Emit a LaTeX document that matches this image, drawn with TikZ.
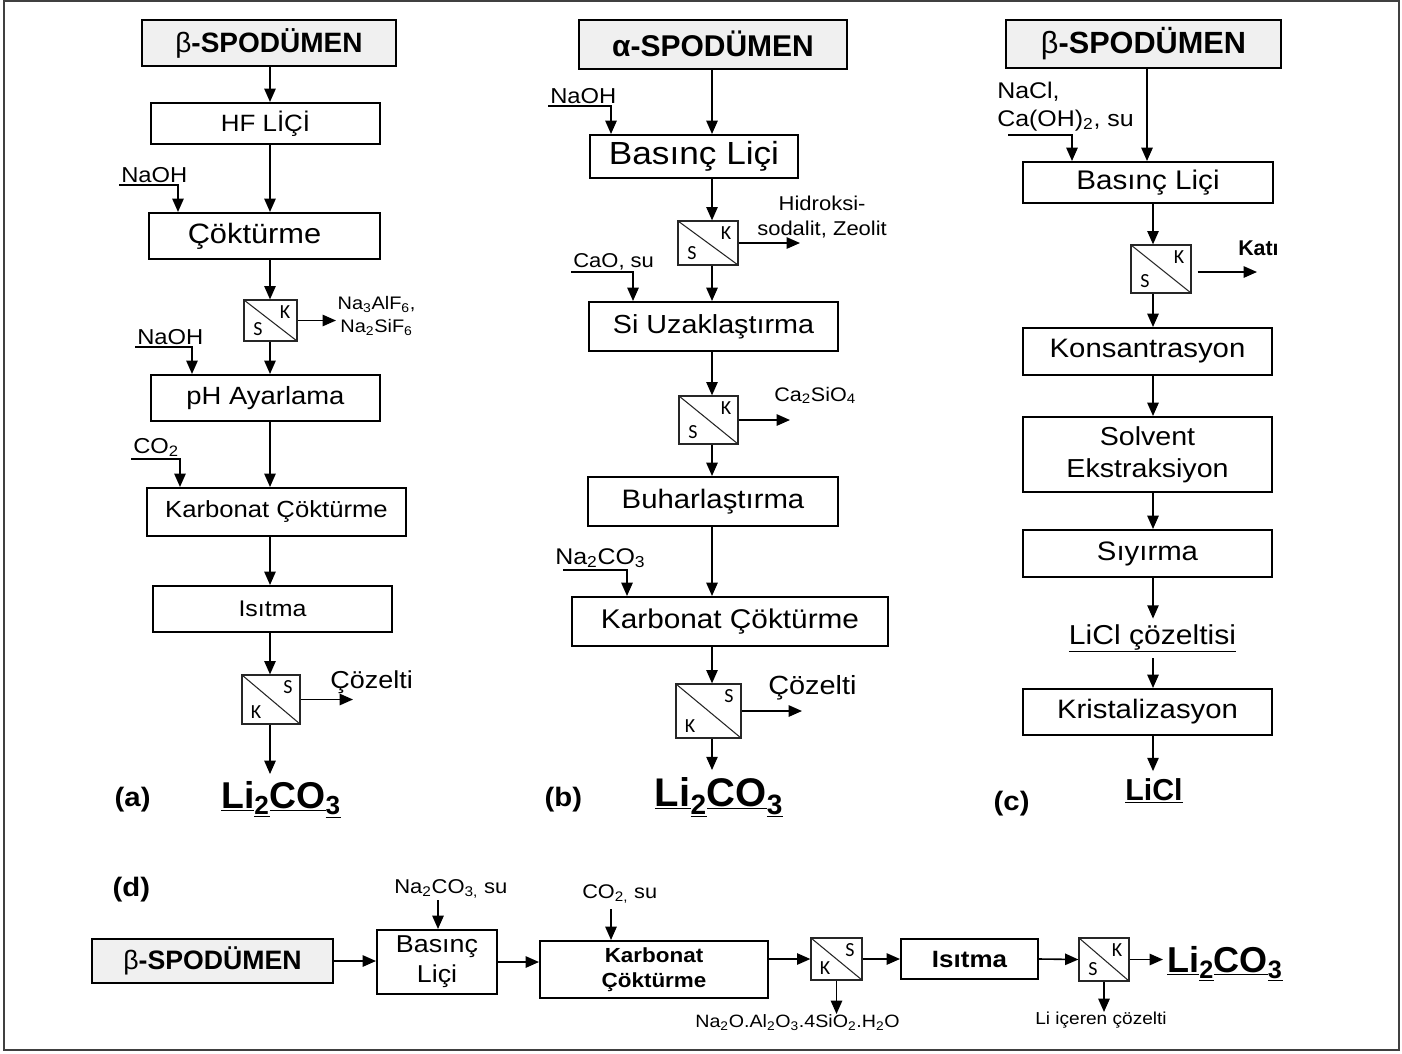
\documentclass[tikz,border=0pt]{standalone}
\usepackage{fontspec}
\setmainfont{Liberation Sans}[FakeStretch=1.1]
\newfontfamily\plainsf{Liberation Sans}
\newfontfamily\calib{Carlito}
\usetikzlibrary{arrows.meta,calc}
\newcommand{\fz}[1]{\fontsize{#1}{1.22\dimexpr#1pt\relax}\selectfont}
\newcommand{\sbs}[1]{\textsubscript{#1}}
\newcommand{\licarb}{\underline{Li}\underline{\textsubscript{2}}\underline{CO}\underline{\textsubscript{3}}}
\tikzset{>/.tip={Triangle[length=10pt,width=8.5pt]},
  flow/.style={->, line width=1.2pt},
  box/.style={draw, line width=1.5pt, inner sep=0pt, align=center},
  srcbox/.style={box, fill=black!6},
  sz/.style 2 args={minimum width=#1*0.75pt, minimum height=#2*0.75pt},
  feed/.style={anchor=south west, inner sep=1.5pt},
  prod/.style={anchor=base, inner xsep=0pt, inner ysep=5pt},
  flt/.style 2 args={draw=black!85, line width=0.9pt, inner sep=0pt,
    path picture={
      \draw[line width=0.8pt] (path picture bounding box.north west) -- (path picture bounding box.south east);
      \node[font=\calib\fz{15}, inner sep=0pt] at ([shift={(-12,12)}]path picture bounding box.north east) {#1};
      \node[font=\calib\fz{15}, inner sep=0pt] at ([shift={(14,-12)}]path picture bounding box.south west) {#2};}}}
\begin{document}
\begin{tikzpicture}[x=0.75pt, y=-0.75pt]
\useasboundingbox (0,0) rectangle (1402,1053);
\draw[black!75, line width=1.5pt] (4,1) rectangle (1399,1050);

% (a)
\coordinate (xa) at (270,0);
\node[srcbox, sz={254}{46}, font=\plainsf\bfseries\fz{21}] (spa) at (269,43) {{\mdseries β}-SPODÜMEN};
\node[box, sz={229}{41}, font=\fz{17.7}] (hfa) at (265.5,123.5) {HF LİÇİ};
\node[box, sz={231}{46}, font=\fz{21}] (coka) at (264.5,236) {Çöktürme\hspace{15pt}};
\node[flt={K}{S}, sz={53}{41}] (fa1) at (270.5,320.5) {};
\node[box, sz={229}{46}, font=\fz{18.7}] (pha) at (265.5,398) {pH Ayarlama};
\node[box, sz={259}{48}, font=\fz{17.5}] (kca) at (276.5,512) {Karbonat Çöktürme};
\node[box, sz={239}{46}, font=\fz{17}] (isa) at (272.5,609) {Isıtma};
\node[flt={S}{K}, sz={58}{49}] (fa2) at (271,699.5) {};
\node[prod, font=\plainsf\bfseries\fz{28}] (lia) at (281,808) {\licarb};
\node[font=\bfseries\fz{20}, anchor=base west] (la) at (110,806) {(a)};

\node[feed, font=\fz{16.2}] (naoh1) at (119,185) {NaOH};
\node[feed, font=\fz{16.2}] (naoh2) at (135,347) {NaOH};
\node[feed, font=\fz{16.2}] (co2a) at (131,459) {CO\sbs{2}};
\node[font=\fz{13.6}, align=center, anchor=west, inner sep=1pt] (pa1) at (336,316) {Na\sbs{3}AlF\sbs{6},\\[1pt]Na\sbs{2}SiF\sbs{6}};
\node[font=\fz{18.4}, anchor=base west, inner sep=0pt] (cza) at (330,688) {Çözelti};
\coordinate (ea2) at (353,0);

\draw[flow] (spa.south -| xa) -- (hfa.north -| xa);
\draw[flow] (hfa.south -| xa) -- (coka.north -| xa);
\draw[flow] (naoh1.south west) -| ($(coka.north west)+(30,0)$);
\draw[flow] (coka.south -| xa) -- (fa1.north -| xa);
\draw[flow] (fa1.east) -- (fa1.east -| pa1.west);
\draw[flow] (fa1.south -| xa) -- (pha.north -| xa);
\draw[flow] (naoh2.south west) -| ($(pha.north west)+(42,0)$);
\draw[flow] (pha.south -| xa) -- (kca.north -| xa);
\draw[flow] (co2a.south west) -| ($(kca.north west)+(34,0)$);
\draw[flow] (kca.south -| xa) -- (isa.north -| xa);
\draw[flow] (isa.south -| xa) -- (fa2.north -| xa);
\draw[flow] (fa2.east) -- (fa2.east -| ea2);
\draw[flow] (fa2.south -| xa) -- (lia.north -| xa);

% (b)
\coordinate (xb) at (712,0);
\node[srcbox, sz={268}{49}, font=\plainsf\bfseries\fz{22.5}] (spb) at (713,44) {α-SPODÜMEN};
\node[box, sz={208}{43}, font=\fz{24}] (blb) at (694,156.5) {Basınç Liçi};
\node[flt={K}{S}, sz={60}{44}] (fb1) at (708,243) {};
\node[box, sz={249}{49}, font=\fz{19.6}] (sib) at (713.5,326.5) {Si Uzaklaştırma};
\node[flt={K}{S}, sz={59}{48}] (fb2) at (708.5,420) {};
\node[box, sz={250}{49}, font=\fz{20}] (bub) at (713,501.5) {Buharlaştırma};
\node[box, sz={316}{49}, font=\fz{20.3}] (kcb) at (730,621.5) {Karbonat Çöktürme};
\node[flt={S}{K}, sz={65}{54}] (fb3) at (708.5,711) {};
\node[prod, font=\plainsf\bfseries\fz{30}] (lib) at (719,806) {\licarb};
\node[font=\bfseries\fz{20}, anchor=base west] (lb) at (540,806) {(b)};

\node[feed, font=\fz{16.2}] (naoh3) at (548,106) {NaOH};
\node[feed, font=\fz{15}] (caob) at (571,272) {CaO, su};
\node[feed, font=\fz{17}] (na2b) at (553,570) {Na\sbs{2}CO\sbs{3}};
\node[font=\fz{15}, align=center, anchor=south west, inner sep=0pt] (pb1) at (757,238) {Hidroksi-\\sodalit, Zeolit};
\node[font=\fz{14.7}, anchor=base west, inner sep=0pt] (pb2) at (774,401) {Ca\sbs{2}SiO\sbs{4}};
\node[font=\fz{19.7}, anchor=base west, inner sep=0pt] (czb) at (768,694) {Çözelti};
\coordinate (eb1) at (800,0);
\coordinate (eb2) at (790,0);
\coordinate (eb3) at (802,0);

\draw[flow] (spb.south -| xb) -- (blb.north -| xb);
\draw[flow] (naoh3.south west) -| ($(blb.north west)+(22,0)$);
\draw[flow] (blb.south -| xb) -- (fb1.north -| xb);
\draw[flow] (fb1.east) -- (fb1.east -| eb1);
\draw[flow] (fb1.south -| xb) -- (sib.north -| xb);
\draw[flow] (caob.south west) -| ($(sib.north west)+(45,0)$);
\draw[flow] (sib.south -| xb) -- (fb2.north -| xb);
\draw[flow] (fb2.east) -- (fb2.east -| eb2);
\draw[flow] (fb2.south -| xb) -- (bub.north -| xb);
\draw[flow] (bub.south -| xb) -- (kcb.north -| xb);
\draw[flow] ([xshift=7.5pt]na2b.south west) -| ($(kcb.north west)+(56,0)$);
\draw[flow] (kcb.south -| xb) -- (fb3.north -| xb);
\draw[flow] (fb3.east) -- (fb3.east -| eb3);
\draw[flow] (fb3.south -| xb) -- (lib.north -| xb);

% (c)
\coordinate (xc) at (1153,0);
\coordinate (xc0) at (1147,0);
\node[srcbox, sz={275}{48}, font=\plainsf\bfseries\fz{23}] (spc) at (1143.5,44) {{\mdseries β}-SPODÜMEN};
\node[box, sz={250}{41}, font=\fz{20.2}] (blc) at (1148,182.5) {Basınç Liçi};
\node[flt={K}{S}, sz={60}{48}] (fc) at (1161,269) {};
\node[box, sz={249}{47}, font=\fz{20}] (koc) at (1147.5,351.5) {Konsantrasyon};
\node[box, sz={249}{75}, font=\fz{19.5}] (soc) at (1147.5,454.5) {Solvent\\Ekstraksiyon};
\node[box, sz={249}{47}, font=\fz{20}] (syc) at (1147.5,553.5) {Sıyırma};
\node[font=\fz{20.5}, anchor=base, inner xsep=0pt, inner ysep=4pt] (lcs) at (1152.5,644) {\underline{LiCl çözeltisi}};
\node[box, sz={249}{46}, font=\fz{20}] (krc) at (1147.5,712) {Kristalizasyon};
\node[prod, font=\plainsf\bfseries\fz{22.7}] (licl) at (1154,800) {\underline{LiCl}};
\node[font=\bfseries\fz{20}, anchor=base west] (lc) at (989,810) {(c)};

\node[font=\fz{17}, align=left, anchor=south west, inner sep=0pt] (nacl) at (997,131) {NaCl,\\Ca(OH)\sbs{2}, su};
\node[font=\plainsf\bfseries\fz{16}, anchor=base west, inner sep=0pt] (kat) at (1238,255) {Katı};
\coordinate (kc1) at (1257,0);

\draw[flow] (spc.south -| xc0) -- (blc.north -| xc0);
\draw[flow] ([shift={(11,4)}]nacl.south west) -| ($(blc.north west)+(50,0)$);
\draw[flow] (blc.south -| xc) -- (fc.north -| xc);
\draw[flow] ([shift={(6,3)}]fc.east) -- ([yshift=-2.25pt]fc.east -| kc1);
\draw[flow] (fc.south -| xc) -- (koc.north -| xc);
\draw[flow] (koc.south -| xc) -- (soc.north -| xc);
\draw[flow] (soc.south -| xc) -- (syc.north -| xc);
\draw[flow] (syc.south -| xc) -- (lcs.north -| xc);
\draw[flow] (lcs.south -| xc) -- (krc.north -| xc);
\draw[flow] (krc.south -| xc) -- (licl.north -| xc);

% (d)
\node[font=\bfseries\fz{20}, anchor=base west] (ld) at (108,896) {(d)};
\node[srcbox, sz={241}{44}, font=\plainsf\bfseries\fz{20}] (spd) at (212.5,961) {{\mdseries β}-SPODÜMEN};
\node[box, sz={120}{64}, font=\fz{18.3}] (bld) at (437,962) {Basınç\\Liçi};
\node[box, sz={228}{57}, font=\bfseries\fz{15.3}] (kcd) at (654,969.5) {Karbonat\\Çöktürme};
\node[flt={S}{K}, sz={51}{42}] (fd1) at (836.5,959) {};
\node[box, sz={137}{40}, font=\bfseries\fz{17.7}] (isd) at (969.5,959) {Isıtma};
\node[flt={K}{S}, sz={50}{43}] (fd2) at (1104,959.5) {};
\node[prod, anchor=base west, font=\plainsf\bfseries\fz{27}] (lid) at (1167,972) {\licarb};

\node[font=\fz{15}, anchor=base west, inner sep=0pt] (nacd) at (394,893) {Na\sbs{2}CO\sbs{3,} su};
\node[font=\fz{14.8}, anchor=base west, inner sep=0pt] (co2d) at (582,898) {CO\sbs{2,} su};
\node[font=\fz{13.4}, anchor=north, inner sep=0pt] (pd1) at (797.5,1014) {Na\sbs{2}O.Al\sbs{2}O\sbs{3}.4SiO\sbs{2}.H\sbs{2}O};
\node[font=\fz{13}, anchor=north, inner sep=0pt] (pd2) at (1101,1012) {Li içeren çözelti};
\coordinate (nd0) at (438,900);
\coordinate (cd0) at (611,909);

\draw[flow] (spd.east) -- (spd.east -| bld.west);
\draw[flow] (nd0) -- (nd0 |- bld.north);
\draw[flow] (bld.east) -- (bld.east -| kcd.west);
\draw[flow] (cd0) -- (cd0 |- kcd.north);
\draw[flow] (kcd.east |- fd1.west) -- (fd1.west);
\draw[flow] (fd1.south) -- (fd1.south |- pd1.north);
\draw[flow] (fd1.east) -- (isd.west);
\draw[flow] (isd.east) -- (fd2.west);
\draw[flow] (fd2.south) -- (fd2.south |- pd2.north);
\draw[flow] (fd2.east) -- ([xshift=-3pt]fd2.east -| lid.west);
\end{tikzpicture}
\end{document}
